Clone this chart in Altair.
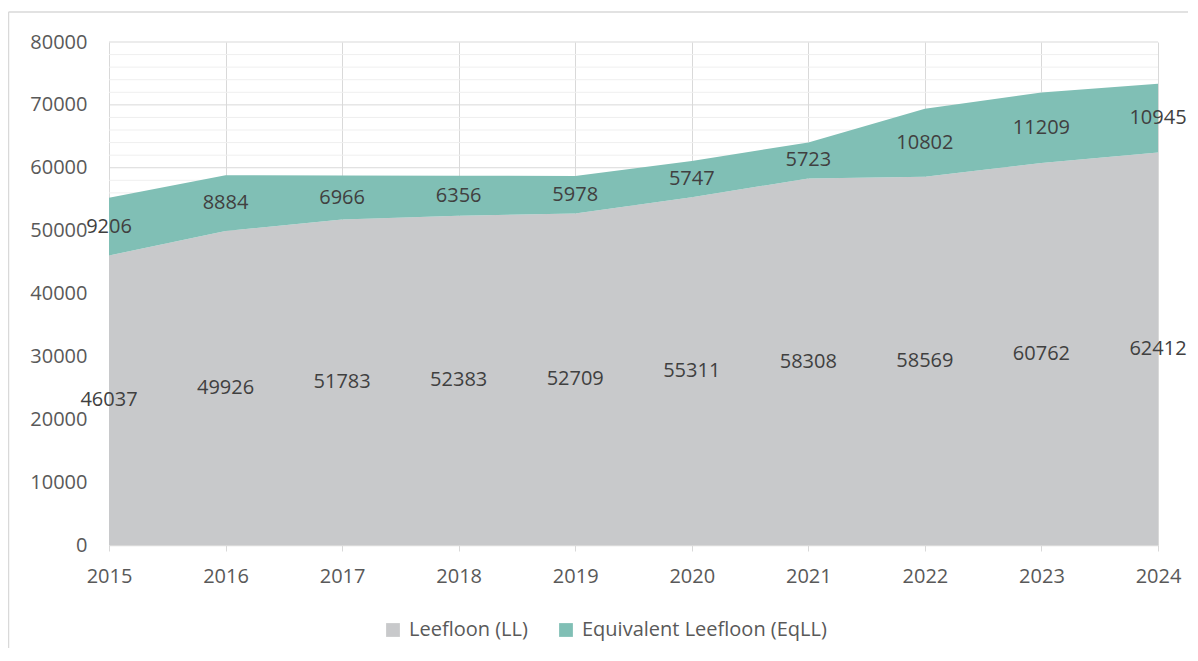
import altair as alt
import pandas as pd

years = [2015, 2016, 2017, 2018, 2019, 2020, 2021, 2022, 2023, 2024]
ll_values = [46037, 49926, 51783, 52383, 52709, 55311, 58308, 58569, 60762, 62412]
eqll_values = [9206, 8884, 6966, 6356, 5978, 5747, 5723, 10802, 11209, 10945]
series_names = ["Leefloon (LL)", "Equivalent Leefloon (EqLL)"]
series_colors = ["#C8C9CB", "#80BFB5"]
major_ticks = list(range(0, 80001, 10000))
minor_ticks = [v for v in range(0, 80001, 2000) if v % 10000 != 0]

rows = []
for i, yr in enumerate(years):
    rows.append({"year": yr, "series": series_names[0], "value": ll_values[i], "order": 0})
    rows.append({"year": yr, "series": series_names[1], "value": eqll_values[i], "order": 1})
df = pd.DataFrame(rows)

FONT = "Open Sans"
W, H = 1049, 503

y_scale = alt.Scale(domain=[0, 80000], nice=False)
y_axis = alt.Axis(
    values=major_ticks, title=None, domain=False, ticks=False, grid=False,
    format="d",
    labelFont=FONT, labelFontSize=20, labelColor="#595959",
    labelPadding=22,
)

x_enc = alt.X(
    "year:Q",
    scale=alt.Scale(domain=[2015, 2024], nice=False, zero=False),
    axis=alt.Axis(
        values=years, format="d", title=None,
        grid=True, gridColor="#D9D9D9", gridWidth=1,
        domainColor="#D9D9D9", domainWidth=1.5,
        tickColor="#D9D9D9", tickSize=6, tickWidth=1,
        labelFont=FONT, labelFontSize=20, labelColor="#595959",
        labelPadding=15, labelFlush=False,
    ),
)

minor_grid = alt.Chart(pd.DataFrame({"v": minor_ticks})).mark_rule(color="#EFEFEF", strokeWidth=1).encode(
    y=alt.Y("v:Q", scale=y_scale, axis=y_axis)
)
major_grid = alt.Chart(pd.DataFrame({"v": major_ticks})).mark_rule(color="#D9D9D9", strokeWidth=1).encode(
    y=alt.Y("v:Q", scale=y_scale, axis=y_axis)
)

area = alt.Chart(df).mark_area(opacity=1, line=False, interpolate="linear").encode(
    x=x_enc,
    y=alt.Y("value:Q", stack="zero", scale=y_scale, axis=y_axis),
    color=alt.Color(
        "series:N",
        scale=alt.Scale(domain=series_names, range=series_colors),
        legend=alt.Legend(
            title=None, orient="none", direction="horizontal",
            legendX=274, legendY=578,
            symbolType="square", symbolSize=190, symbolStrokeWidth=0,
            labelFont=FONT, labelFontSize=20, labelColor="#595959",
            columnPadding=28, labelLimit=400, labelOffset=6,
        ),
    ),
    order=alt.Order("order:Q"),
)

labels = alt.Chart(df).transform_stack(
    stack="value", groupby=["year"], as_=["v0", "v1"],
    sort=[alt.SortField("order", order="ascending")],
).transform_calculate(
    mid="(datum.v0 + datum.v1) / 2"
).mark_text(font=FONT, fontSize=20, color="#404040", baseline="middle", align="center").encode(
    x=alt.X("year:Q"),
    y=alt.Y("mid:Q", scale=y_scale, axis=y_axis),
    text=alt.Text("value:Q", format="d"),
)

border_top = alt.Chart(pd.DataFrame({"k": [0]})).mark_rule(color="#D9D9D9", strokeWidth=1.5).encode(
    x=alt.value(-100.5), x2=alt.value(1100), y=alt.value(-30)
)
border_left = alt.Chart(pd.DataFrame({"k": [0]})).mark_rule(color="#D9D9D9", strokeWidth=1.5).encode(
    x=alt.value(-100.5), y=alt.value(-30), y2=alt.value(640)
)

chart = alt.layer(minor_grid, major_grid, area, labels, border_top, border_left).properties(
    width=W, height=H,
    autosize=alt.AutoSizeParams(type="none"),
    padding={"left": 101, "top": 34, "right": 30, "bottom": 103},
    background="white",
).configure_view(stroke=None)

chart.save("out.html", embed_options={"renderer": "svg", "actions": False})
